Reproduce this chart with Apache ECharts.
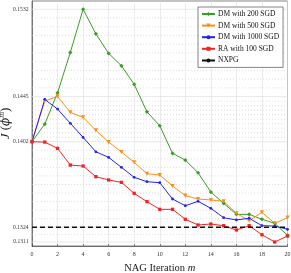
<!DOCTYPE html>
<html><head><meta charset="utf-8">
<script src="https://cdn.jsdelivr.net/npm/echarts@6/dist/echarts.min.js"></script>
<style>html,body{margin:0;padding:0;background:#fff}#c{width:291px;height:273px}</style>
</head><body><div id="c"></div>
<script>
const iterations = [0,1,2,3,4,5,6,7,8,9,10,11,12,13,14,15,16,17,18,19,20];
const dm200  = [0.1402,0.14187,0.14487,0.14884,0.1532,0.1507,0.14874,0.14751,0.14569,0.14304,0.14171,0.13912,0.13849,0.13732,0.13556,0.13454,0.13355,0.13355,0.13311,0.13275,0.13169];
const dm500  = [0.1402,0.14407,0.14452,0.14298,0.14251,0.14127,0.14017,0.13924,0.13828,0.13723,0.13711,0.13611,0.13523,0.13493,0.13484,0.13472,0.13364,0.13298,0.13373,0.13275,0.13325];
const dm1000 = [0.1402,0.14423,0.1433,0.14194,0.14061,0.13926,0.13874,0.13782,0.1369,0.1365,0.13641,0.13493,0.13432,0.13472,0.13409,0.13325,0.13305,0.1332,0.13254,0.13251,0.13222];
const ra100  = [0.1402,0.14017,0.13958,0.13803,0.13794,0.13696,0.13666,0.13644,0.13544,0.13469,0.134,0.134,0.13311,0.1326,0.13269,0.13254,0.13216,0.13254,0.13174,0.1311,0.13163];
const nxpg = 0.1324;
const yTicks = [0.1311,0.1324,0.1402,0.1445,0.1532];
const yMinorDivs = [2,10,10,10];
const yRange = [0.13075,0.15405];
const xRange = [0,20];
const seriesNames = ['DM with 200 SGD','DM with 500 SGD','DM with 1000 SGD','RA with 100 SGD','NXPG'];

const serif = 'Liberation Serif';
function pairs(arr){ return iterations.map((x,i)=>[x,arr[i]]); }

const minorVals = [];
for (let i=0;i<yTicks.length-1;i++){
  const a=yTicks[i], b=yTicks[i+1], n=yMinorDivs[i];
  for (let k=1;k<n;k++) minorVals.push(a*Math.pow(b/a,k/n));
}

function gridSeries(v, major){
  return {name:'_grid', type:'line', silent:true, z:1, animation:false,
    symbol:'circle', symbolSize:1, showSymbol:true,
    itemStyle:{color:'rgba(0,0,0,0)', borderWidth:0},
    labelLayout:{hideOverlap:false},
    lineStyle: major ? {color:'#dedede', width:0.7, type:'solid'} : {color:'#c8c8c8', width:0.6, type:[1,2]},
    data:[
      {value:[xRange[0],v], label: major ? {show:true, position:'left', distance:3, formatter:v.toFixed(4),
         fontFamily:serif, fontSize:5.6, color:'#333', opacity:1} : {show:false}},
      {value:[xRange[1],v], label:{show:false}}
    ]};
}

const chart = echarts.init(document.getElementById('c'), null, {renderer:'canvas'});
function mk(name,data,color,symbol,size,rot){
  return {name, type:'line', data:pairs(data), z:3,
    lineStyle:{color, width:1}, itemStyle:{color},
    symbol, symbolSize:size, symbolRotate:rot||0, showSymbol:true, animation:false};
}
const series = minorVals.map(v=>gridSeries(v,false)).concat(yTicks.map(v=>gridSeries(v,true)));
series.push(
  mk(seriesNames[0], dm200, '#3a9e26', 'diamond', 4.2),
  mk(seriesNames[1], dm500, '#f7901a', 'triangle', 4.2, 180),
  mk(seriesNames[2], dm1000, '#2222f0', 'circle', 2.8),
  mk(seriesNames[3], ra100, '#f42323', 'rect', 3.3),
  {name:seriesNames[4], type:'line', data:[[xRange[0],nxpg],[xRange[1],nxpg]], z:4, animation:false,
    symbol:'none', lineStyle:{color:'#111', width:1.3, type:[5,3]}, itemStyle:{color:'#111'}}
);

chart.setOption({
  animation:false,
  grid:{left:32, right:3.5, top:1, bottom:27, show:true, borderColor:'#333', borderWidth:0.6, backgroundColor:'#fff',
    containLabel:false, outerBoundsMode:'none'},
  legend:{
    data:seriesNames, orient:'vertical', left:198, top:7,
    itemWidth:13, itemHeight:5, itemGap:3.6,
    padding:[3,4,3,3], borderColor:'#333', borderWidth:0.6, backgroundColor:'#fff',
    textStyle:{fontFamily:serif, fontSize:7.5, color:'#111', padding:[0,0,0,-2]}
  },
  xAxis:{type:'value', min:xRange[0], max:xRange[1], interval:2,
    name:'{a|NAG Iteration }{b|m}', nameLocation:'middle', nameGap:17,
    nameTextStyle:{rich:{a:{fontFamily:serif,fontSize:10.5,color:'#222'},b:{fontFamily:serif,fontSize:10.5,fontStyle:'italic',color:'#222'}}},
    axisLine:{lineStyle:{color:'#333',width:0.6}},
    axisTick:{show:true, inside:true, length:2, lineStyle:{color:'#333',width:0.6}},
    axisLabel:{fontFamily:serif, fontSize:6, color:'#333', margin:5},
    splitLine:{show:true, lineStyle:{color:'#e2e2e2', width:0.7}}
  },
  yAxis:{type:'log', min:yRange[0], max:yRange[1],
    name:'{a|J}{b| (}{c|ϕ}{d|m}{b|)}', nameLocation:'middle', nameGap:19, nameRotate:90,
    nameTextStyle:{rich:{
      a:{fontFamily:serif,fontSize:13,fontStyle:'italic',color:'#222'},
      b:{fontFamily:serif,fontSize:13,color:'#222'},
      c:{fontFamily:'DejaVu Serif',fontSize:12,fontStyle:'italic',color:'#222'},
      d:{fontFamily:serif,fontSize:8,fontStyle:'italic',color:'#222',verticalAlign:'top',padding:[0,0,7,0]}
    }},
    axisLine:{show:true, lineStyle:{color:'#333',width:0.6}},
    axisTick:{show:false}, axisLabel:{show:false}, splitLine:{show:false}
  },
  series
});
</script></body></html>
